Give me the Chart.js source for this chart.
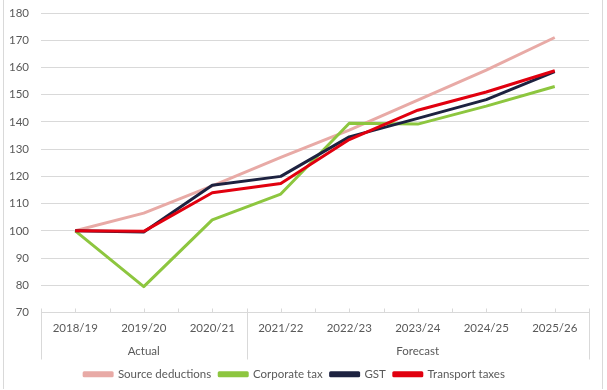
<!DOCTYPE html>
<html>
<head>
<meta charset="utf-8">
<script src="https://cdn.jsdelivr.net/npm/chart.js@4"></script>
<style>
  html, body { margin: 0; padding: 0; background: #fff; }
  #wrap { width: 607px; height: 390px; position: relative; }
</style>
</head>
<body>
<div id="wrap"><canvas id="chart" width="607" height="390"></canvas></div>
<script>
const years = ['2018/19', '2019/20', '2020/21', '2021/22', '2022/23', '2023/24', '2024/25', '2025/26'];
const groups = [
  { label: 'Actual', from: 0, to: 2 },
  { label: 'Forecast', from: 3, to: 7 }
];
const sourceDeductions = [100, 106.5, 116.5, 127, 137, 148, 159, 171];
const corporateTax = [100, 79.5, 104, 113.5, 139.5, 139.2, 145.8, 153];
const gst = [100, 99.6, 116.7, 120, 134.5, 141.3, 148.2, 158.5];
const transportTaxes = [100, 99.8, 114, 117.4, 133.5, 144.3, 151, 158.8];
const yTicks = { min: 70, max: 180, step: 10 };

const textColor = '#595959';
const lineGrey = '#d9d9d9';
const fontFamily = 'Lato, "Open Sans", sans-serif';
const fontSize = 11.5;

// group labels, separators and small tick marks under the x axis
const groupAxis = {
  id: 'groupAxis',
  afterDraw(chart) {
    const ctx = chart.ctx;
    const x = chart.scales.x;
    const area = chart.chartArea;
    const n = years.length;
    ctx.save();
    ctx.strokeStyle = lineGrey;
    ctx.lineWidth = 1;
    // half-category tick marks pointing up
    for (let k = 0; k <= n * 2; k++) {
      const px = Math.round(area.left + k * (area.right - area.left) / (n * 2)) + 0.5;
      ctx.beginPath();
      ctx.moveTo(px, area.bottom - 4);
      ctx.lineTo(px, area.bottom);
      ctx.stroke();
    }
    ctx.fillStyle = textColor;
    ctx.font = fontSize + 'px ' + fontFamily;
    ctx.textAlign = 'center';
    ctx.textBaseline = 'middle';
    const edges = [];
    groups.forEach(g => {
      const a = x.getPixelForTick(g.from);
      const b = x.getPixelForTick(g.to);
      const half = (area.right - area.left) / n / 2;
      edges.push(a - half, b + half);
      ctx.fillText(g.label, (a + b) / 2, area.bottom + 39);
    });
    [...new Set(edges.map(e => Math.round(e)))].forEach(e => {
      ctx.beginPath();
      ctx.moveTo(e + 0.5, area.bottom);
      ctx.lineTo(e + 0.5, area.bottom + 47);
      ctx.stroke();
    });
    // outer frame
    ctx.beginPath();
    ctx.moveTo(3.5, 0);
    ctx.lineTo(3.5, 389);
    ctx.moveTo(602.5, 0);
    ctx.lineTo(602.5, 389);
    ctx.stroke();
    ctx.restore();
  }
};

const ctx = document.getElementById('chart').getContext('2d');
const chart = new Chart(ctx, {
  type: 'line',
  data: {
    labels: years,
    datasets: [
      { label: 'Source deductions', data: sourceDeductions, borderColor: '#e8aaa6', backgroundColor: '#e8aaa6', order: 3 },
      { label: 'Corporate tax', data: corporateTax, borderColor: '#8dc63f', backgroundColor: '#8dc63f', order: 2 },
      { label: 'GST', data: gst, borderColor: '#1d2240', backgroundColor: '#1d2240', order: 1 },
      { label: 'Transport taxes', data: transportTaxes, borderColor: '#e1000f', backgroundColor: '#e1000f', order: 0 }
    ]
  },
  options: {
    responsive: false,
    animation: false,
    elements: {
      line: { borderWidth: 3, tension: 0, borderJoinStyle: 'round' },
      point: { radius: 0 }
    },
    layout: { padding: { top: 13, right: 18, left: 0, bottom: 0 } },
    scales: {
      x: {
        offset: true,
        grid: { display: false },
        border: { display: true, color: lineGrey },
        ticks: { color: textColor, font: { family: fontFamily, size: fontSize }, padding: 1, maxRotation: 0 },
        afterFit(s) { s.height = 48; }
      },
      y: {
        min: yTicks.min,
        max: yTicks.max,
        grid: { color: lineGrey, drawTicks: false },
        border: { display: false },
        ticks: { stepSize: yTicks.step, color: textColor, font: { family: fontFamily, size: fontSize }, padding: 12 },
        afterFit(s) { s.width = 41; s.paddingTop = 0; s.paddingBottom = 0; }
      }
    },
    plugins: {
      legend: {
        position: 'bottom',
        labels: {
          color: textColor,
          font: { family: fontFamily, size: fontSize },
          boxWidth: 28,
          boxHeight: 3,
          padding: 8,
          sort: (a, b) => a.datasetIndex - b.datasetIndex
        }
      },
      tooltip: { enabled: false }
    }
  },
  plugins: [groupAxis]
});
</script>
</body>
</html>
